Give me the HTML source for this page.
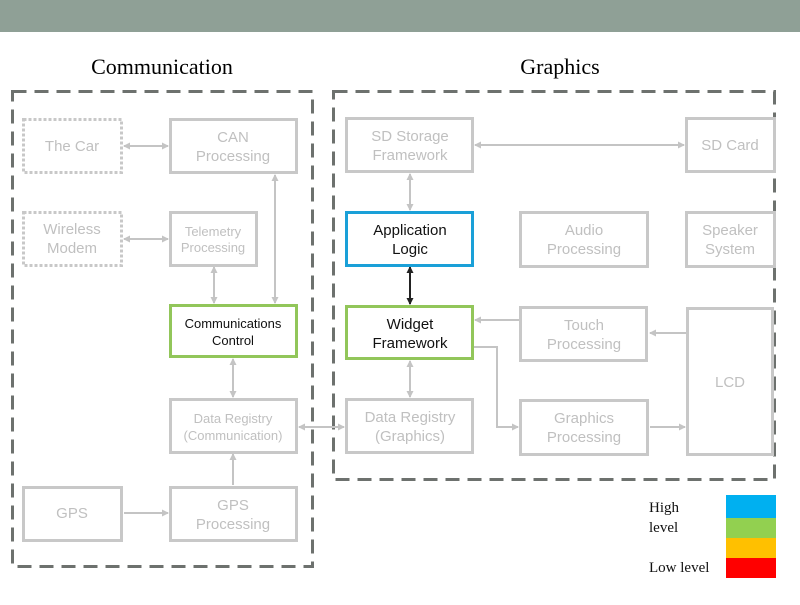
<!DOCTYPE html>
<html><head><meta charset="utf-8"><style>
body{margin:0;background:#fff}
svg text{font-family:"Liberation Sans",sans-serif}
</style></head><body>
<svg width="800" height="600" viewBox="0 0 800 600" xmlns="http://www.w3.org/2000/svg">
<defs>
<marker id="a" markerWidth="8" markerHeight="8" refX="6" refY="4" orient="auto-start-reverse" markerUnits="userSpaceOnUse"><path d="M0,0.5 L7,4 L0,7.5 z" fill="#c4c4c4"/></marker>
<marker id="b" markerWidth="8" markerHeight="8" refX="6" refY="4" orient="auto-start-reverse" markerUnits="userSpaceOnUse"><path d="M0,0.5 L7,4 L0,7.5 z" fill="#222"/></marker>
</defs>
<rect x="0" y="0" width="800" height="32" fill="#8fa096"/>
<text x="162" y="74" font-size="22" text-anchor="middle" style="font-family:'Liberation Serif',serif">Communication</text>
<text x="560" y="74" font-size="22" text-anchor="middle" style="font-family:'Liberation Serif',serif">Graphics</text>
<g fill="none" stroke="#6d716e" stroke-width="3" stroke-dasharray="14,8">
<rect x="12.5" y="91.5" width="300" height="475"/>
<rect x="333.5" y="91.5" width="441" height="388"/>
</g>
<g stroke="#c4c4c4" stroke-width="2" fill="none">
<line x1="124" y1="146" x2="168" y2="146" marker-start="url(#a)" marker-end="url(#a)"/>
<line x1="124" y1="239" x2="168" y2="239" marker-start="url(#a)" marker-end="url(#a)"/>
<line x1="214" y1="267" x2="214" y2="303" marker-start="url(#a)" marker-end="url(#a)"/>
<line x1="275" y1="175" x2="275" y2="303" marker-start="url(#a)" marker-end="url(#a)"/>
<line x1="233" y1="359" x2="233" y2="397" marker-start="url(#a)" marker-end="url(#a)"/>
<line x1="233" y1="485" x2="233" y2="454" marker-end="url(#a)"/>
<line x1="124" y1="513" x2="168" y2="513" marker-end="url(#a)"/>
<line x1="299" y1="427" x2="344" y2="427" marker-start="url(#a)" marker-end="url(#a)"/>
<line x1="475" y1="145" x2="684" y2="145" marker-start="url(#a)" marker-end="url(#a)"/>
<line x1="410" y1="174" x2="410" y2="210" marker-start="url(#a)" marker-end="url(#a)"/>
<line x1="410" y1="361" x2="410" y2="397" marker-start="url(#a)" marker-end="url(#a)"/>
<line x1="520" y1="320" x2="475" y2="320" marker-end="url(#a)"/>
<polyline points="474,347 497,347 497,427 518,427" marker-end="url(#a)"/>
<line x1="687" y1="333" x2="650" y2="333" marker-end="url(#a)"/>
<line x1="650" y1="427" x2="685" y2="427" marker-end="url(#a)"/>
</g>
<line x1="410" y1="267" x2="410" y2="304" stroke="#222" stroke-width="2" marker-start="url(#b)" marker-end="url(#b)"/>
<g fill="#fff" stroke="#c8c8c8" stroke-width="3">
<rect x="23.5" y="119.5" width="98" height="53" stroke-dasharray="3,2"/>
<rect x="23.5" y="212.5" width="98" height="53" stroke-dasharray="3,2"/>
<rect x="170.5" y="119.5" width="126" height="53"/>
<rect x="170.5" y="212.5" width="86" height="53"/>
<rect x="170.5" y="399.5" width="126" height="53"/>
<rect x="23.5" y="487.5" width="98" height="53"/>
<rect x="170.5" y="487.5" width="126" height="53"/>
<rect x="346.5" y="118.5" width="126" height="53"/>
<rect x="686.5" y="118.5" width="88" height="53"/>
<rect x="520.5" y="212.5" width="127" height="54"/>
<rect x="686.5" y="212.5" width="88" height="54"/>
<rect x="520.5" y="307.5" width="126" height="53"/>
<rect x="687.5" y="308.5" width="85" height="146"/>
<rect x="346.5" y="399.5" width="126" height="53"/>
<rect x="520.5" y="400.5" width="127" height="54"/>
</g>
<rect x="170.5" y="305.5" width="126" height="51" fill="#fff" stroke="#92c65a" stroke-width="3"/>
<rect x="346.5" y="306.5" width="126" height="52" fill="#fff" stroke="#92c65a" stroke-width="3"/>
<rect x="346.5" y="212.5" width="126" height="53" fill="#fff" stroke="#1aa0d8" stroke-width="3"/>
<g fill="#c0c0c0" font-size="15" text-anchor="middle">
<text x="72" y="151">The Car</text>
<text x="72" y="234">Wireless</text><text x="72" y="253">Modem</text>
<text x="233" y="142">CAN</text><text x="233" y="161">Processing</text>
<text x="213" y="236" font-size="13">Telemetry</text><text x="213" y="252" font-size="13">Processing</text>
<text x="233" y="423" font-size="13">Data Registry</text><text x="233" y="440" font-size="13">(Communication)</text>
<text x="72" y="518">GPS</text>
<text x="233" y="510">GPS</text><text x="233" y="529">Processing</text>
<text x="410" y="141">SD Storage</text><text x="410" y="160">Framework</text>
<text x="730" y="150">SD Card</text>
<text x="584" y="235">Audio</text><text x="584" y="254">Processing</text>
<text x="730" y="235">Speaker</text><text x="730" y="254">System</text>
<text x="584" y="330">Touch</text><text x="584" y="349">Processing</text>
<text x="730" y="387">LCD</text>
<text x="410" y="422">Data Registry</text><text x="410" y="441">(Graphics)</text>
<text x="584" y="423">Graphics</text><text x="584" y="442">Processing</text>
</g>
<g fill="#111" text-anchor="middle">
<text x="233" y="328" font-size="13">Communications</text><text x="233" y="345" font-size="13">Control</text>
<text x="410" y="235" font-size="15">Application</text><text x="410" y="254" font-size="15">Logic</text>
<text x="410" y="329" font-size="15">Widget</text><text x="410" y="348" font-size="15">Framework</text>
</g>
<g font-size="15" fill="#111">
<text x="649" y="512" style="font-family:'Liberation Serif',serif">High</text>
<text x="649" y="532" style="font-family:'Liberation Serif',serif">level</text>
<text x="649" y="572" style="font-family:'Liberation Serif',serif">Low level</text>
</g>
<rect x="726" y="495" width="50" height="23" fill="#00b0f0"/>
<rect x="726" y="518" width="50" height="20" fill="#92d050"/>
<rect x="726" y="538" width="50" height="20" fill="#ffc000"/>
<rect x="726" y="558" width="50" height="20" fill="#ff0000"/>
</svg>
</body></html>
